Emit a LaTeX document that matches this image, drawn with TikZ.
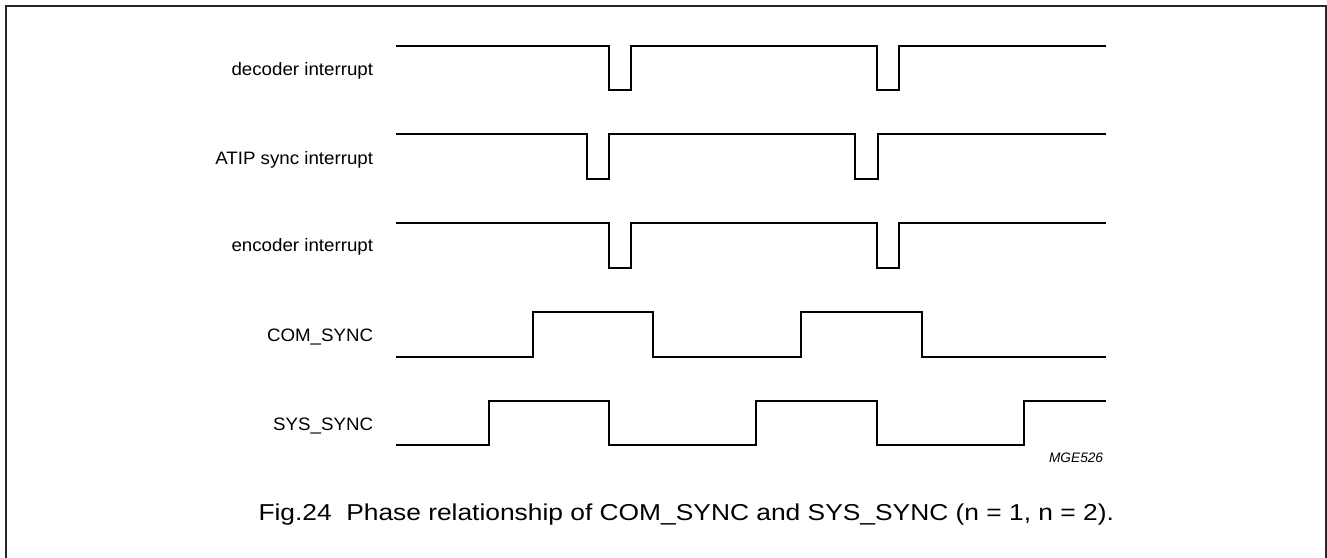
\documentclass[tikz,border=0pt]{standalone}
\usepackage{fontspec}
\setmainfont{Liberation Sans}
\begin{document}
\begin{tikzpicture}[x=1pt,y=-1pt,
  wave/.style={line width=2pt, line join=miter},
  frame/.style={line width=2pt, draw=black!85},
  siglabel/.style={anchor=base east, inner sep=0pt, font=\fontsize{18}{20}\selectfont, xscale=1.04},
  caption/.style={anchor=base west, inner sep=0pt, font=\fontsize{23}{27}\selectfont, xscale=1.146},
  tag/.style={anchor=base east, inner sep=0pt, font=\fontsize{13.7}{15}\selectfont\itshape}]
\useasboundingbox (0,0) rectangle (1327,557);
% frame
\draw[frame] (6,562) -- (6,5.5) -- (1325.5,5.5) -- (1325.5,562);
% decoder interrupt
\draw[wave] (395.5,45.5) -- (609.3,45.5) -- (609.3,90.3) -- (631.3,90.3) -- (631.3,45.5)
  -- (877.3,45.5) -- (877.3,90.3) -- (899,90.3) -- (899,45.5) -- (1106,45.5);
% ATIP sync interrupt
\draw[wave] (395.5,134.3) -- (587,134.3) -- (587,178.7) -- (609.3,178.7) -- (609.3,134.3)
  -- (855,134.3) -- (855,178.7) -- (877.7,178.7) -- (877.7,134.3) -- (1106,134.3);
% encoder interrupt
\draw[wave] (395.5,223.3) -- (609.3,223.3) -- (609.3,268) -- (631.3,268) -- (631.3,223.3)
  -- (877.3,223.3) -- (877.3,268) -- (899,268) -- (899,223.3) -- (1106,223.3);
% COM_SYNC
\draw[wave] (395.5,356.7) -- (533,356.7) -- (533,312.3) -- (653.3,312.3) -- (653.3,356.7)
  -- (801,356.7) -- (801,312.3) -- (921.7,312.3) -- (921.7,356.7) -- (1106,356.7);
% SYS_SYNC
\draw[wave] (395.5,445.3) -- (489,445.3) -- (489,401) -- (609.3,401) -- (609.3,445.3)
  -- (756,445.3) -- (756,401) -- (876.7,401) -- (876.7,445.3) -- (1024.3,445.3)
  -- (1024.3,401) -- (1106,401);
% labels
\node[siglabel] (ldec) at (373.3,75) {decoder interrupt};
\node[siglabel] (latip) at (373.3,164.3) {ATIP sync interrupt};
\node[siglabel] (lenc) at (373.3,251.7) {encoder interrupt};
\node[siglabel] (lcom) at (373.3,341.7) {COM\_SYNC};
\node[siglabel] (lsys) at (373.3,430) {SYS\_SYNC};
\node[tag] (mge) at (1103.3,462.7) {MGE526};
\node[caption] (cap) at (258.3,520.7) {Fig.24\hspace{0.55em}Phase relationship of COM\_SYNC and SYS\_SYNC (n = 1, n = 2).};
\end{tikzpicture}
\end{document}
